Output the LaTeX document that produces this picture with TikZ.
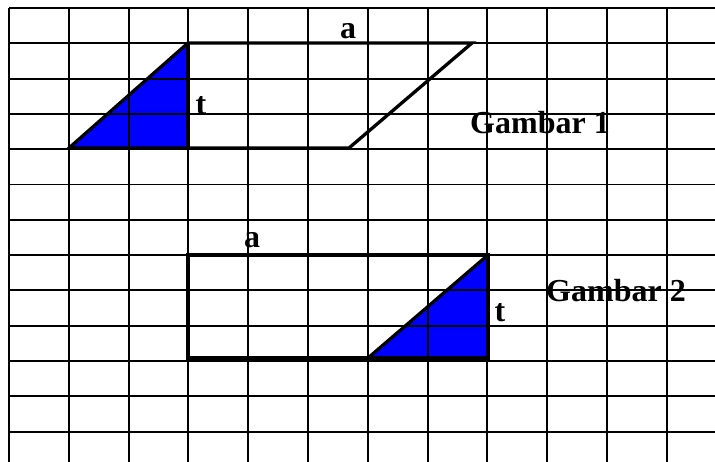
\documentclass[tikz,border=0pt]{standalone}
\usepackage{fontspec}
\setmainfont{Liberation Serif}
\definecolor{blue1}{RGB}{0,0,255}
\usepackage{tikz}
\usetikzlibrary{calc}

\begin{document}
\begin{tikzpicture}[x=1pt, y=-1pt,
  gridline/.style={line width=1.9pt},
  outline/.style={line width=3.3pt, line join=miter},
  lbl/.style={font=\fontsize{32}{32}\selectfont\bfseries, inner sep=0pt, anchor=base}]
  \useasboundingbox (0,0) rectangle (715,462);
  % Gambar 1
  \coordinate (g1a) at (69,148);
  \coordinate (g1b) at (188,43);
  \coordinate (g1c) at (188,148);
  \coordinate (g1d) at (472,43);
  \coordinate (g1e) at (349,148);
  % Gambar 2
  \coordinate (g2a) at (188,255);
  \coordinate (g2b) at (488,255);
  \coordinate (g2c) at (488,358);
  \coordinate (g2d) at (368,358);
  \coordinate (g2e) at (188,358);
  \fill[blue1] (g1a) -- (g1b) -- (g1c) -- cycle;
  \fill[blue1] (g2d) -- (g2b) -- (g2c) -- cycle;
  % grid
  \foreach \i in {0,...,11}
    \draw[gridline] ({9+59.8*\i},8) -- ({9+59.8*\i},462);
  \foreach \j in {0,...,12}
    \draw[gridline] (9,{8+35.3*\j}) -- (715,{8+35.3*\j});
  % outlines
  \draw[outline] (g1b) -- (g1d) -- (g1e) -- (g1a) -- cycle;
  \draw[outline] (g1b) -- (g1c);
  \draw[outline] (g2a) -- (g2b) -- (g2c) -- (g2e) -- cycle;
  \draw[outline] (g2d) -- (g2b);
  % labels
  \node[lbl] (a1) at (348,39) {a};
  \node[lbl] (t1) at (201,115) {t};
  \node[lbl, anchor=base west] (gam1) at (470,134) {Gambar 1};
  \node[lbl] (a2) at (252,248) {a};
  \node[lbl] (t2) at (500,322) {t};
  \node[lbl, anchor=base west] (gam2) at (546,302) {Gambar 2};
\end{tikzpicture}
\end{document}
